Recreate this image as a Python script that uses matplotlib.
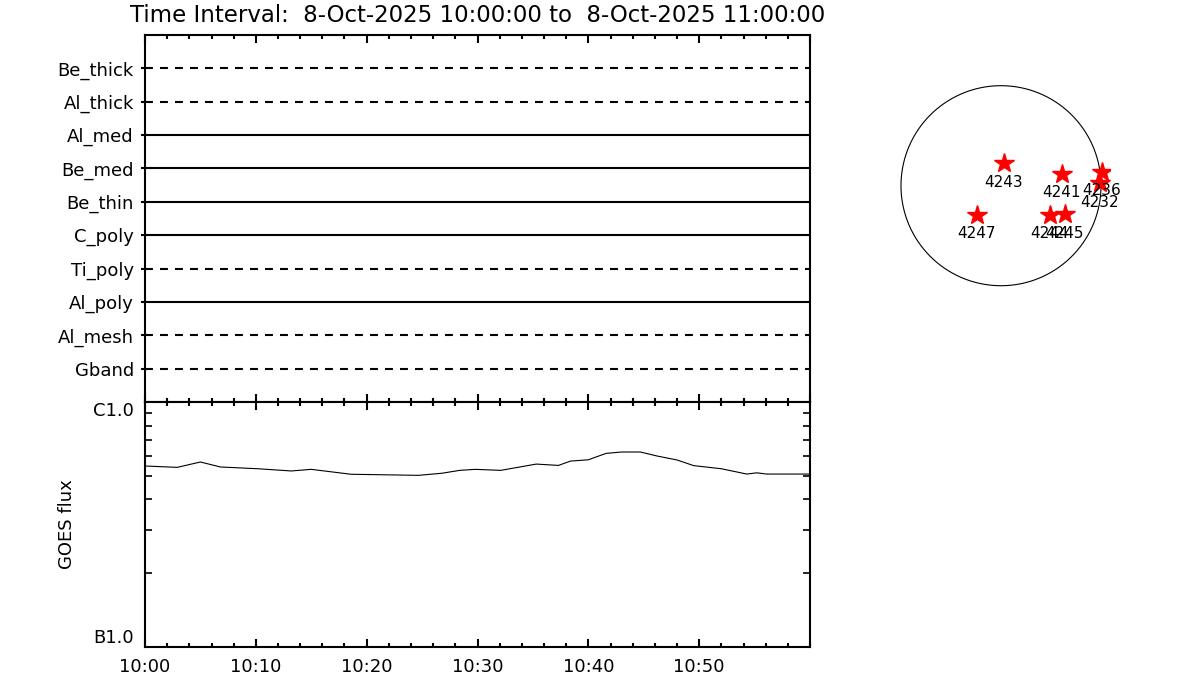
import numpy as np
import matplotlib
matplotlib.use("Agg")
import matplotlib.pyplot as plt
import matplotlib.dates as mdates
from matplotlib.ticker import NullFormatter

# filters / status channels, top to bottom
channels = ["Be_thick", "Al_thick", "Al_med", "Be_med", "Be_thin",
            "C_poly", "Ti_poly", "Al_poly", "Al_mesh", "Gband"]
in_use = [False, False, True, True, True, True, False, True, False, False]

# GOES flux (W/m^2), minutes after 10:00
goes_min = [0, 2.9, 5.0, 6.8, 10.2, 13.2, 15.0, 18.6, 24.7, 26.8, 28.4, 29.8,
            32.1, 35.3, 37.3, 38.4, 40.0, 41.6, 43.0, 44.7, 46.2, 48.0, 49.5,
            52.0, 54.3, 55.2, 56.1, 59.9]
goes_flux = [5.48, 5.41, 5.69, 5.43, 5.34, 5.23, 5.31, 5.07, 5.02, 5.12, 5.26,
             5.31, 5.26, 5.58, 5.51, 5.74, 5.81, 6.17, 6.25, 6.25, 6.02, 5.80,
             5.50, 5.34, 5.08, 5.14, 5.08, 5.08]
goes_flux = [f * 1e-7 for f in goes_flux]

tick_min = [0, 10, 20, 30, 40, 50]
flux_ticks = [1e-7, 1e-6]
flux_labels = ["B1.0", "C1.0"]

# active regions on the disk (arcsec)
ar_num = ["4243", "4241", "4236", "4232", "4247", "4244", "4245"]
ar_x = [29, 583, 967, 950, -233, 470, 614]
ar_y = [215, 112, 134, 23, -281, -281, -275]

t0 = np.datetime64("2025-10-08T10:00:00")
def to_time(m):
    return t0 + (np.array(m) * 60).astype("timedelta64[s]")

t_start, t_end = to_time([0, 60])

fig = plt.figure(figsize=(12, 7), dpi=100)
fs = 13

fig.text(0.398, 0.978, "Time Interval:  8-Oct-2025 10:00:00 to  8-Oct-2025 11:00:00",
         ha="center", va="center", fontsize=16.5)

# top panel: filter status lines
ax1 = fig.add_axes([145/1200, 1-402/700, 665/1200, 367/700])
n = len(channels)
ypos = np.arange(n, 0, -1)
for y, used in zip(ypos, in_use):
    ls = "-" if used else (0, (3.8, 3.4))
    ax1.plot([t_start, t_end], [y, y], color="black", lw=1.5, linestyle=ls)
ax1.set_ylim(0, n + 1)
ax1.set_yticks(ypos)
ax1.set_yticklabels(channels, fontsize=fs)
ax1.tick_params(axis="y", direction="out", length=3, width=1.5, pad=5, right=False)
ax1.set_xlim(t_start, t_end)

# bottom panel: GOES
ax2 = fig.add_axes([145/1200, 1-647/700, 665/1200, 245/700])
ax2.plot(to_time(goes_min), goes_flux, color="black", lw=0.8)
ax2.set_yscale("log")
ax2.set_ylim(1e-7, 1e-6)
ax2.set_yticks(flux_ticks)
ax2.set_yticklabels(flux_labels, fontsize=fs)
ax2.yaxis.set_minor_formatter(NullFormatter())
ax2.tick_params(axis="y", which="both", direction="in", left=True, right=True,
                length=5, width=1.2, pad=8)
ax2.set_ylabel("GOES flux", fontsize=fs, labelpad=12)
labs = ax2.get_yticklabels()
labs[0].set_va("bottom")
labs[1].set_va("top")
ax2.set_xlim(t_start, t_end)

for ax in (ax1, ax2):
    for s in ax.spines.values():
        s.set_linewidth(1.5)
    ax.xaxis.set_major_locator(mdates.MinuteLocator(byminute=tick_min))
    ax.xaxis.set_minor_locator(mdates.MinuteLocator(byminute=range(0, 60, 2)))
    ax.xaxis.set_major_formatter(mdates.DateFormatter("%H:%M"))
    ax.tick_params(axis="x", which="major", direction="in", top=True, bottom=True,
                   length=6, width=1.5, labelsize=fs, pad=8)
    ax.tick_params(axis="x", which="minor", direction="in", top=True, bottom=True,
                   length=3, width=1.5)
ax1.tick_params(axis="x", which="both", labelbottom=False)
ax2.set_xticks(to_time(tick_min))
ax2.set_xticklabels([str(10) + ":" + f"{m:02d}" for m in tick_min], fontsize=fs)
ax1.set_xlim(t_start, t_end)
ax2.set_xlim(t_start, t_end)

# solar disk
ax3 = fig.add_axes([(1001-109.4)/1200, 1-(185.7+109.4)/700, 218.8/1200, 218.8/700])
ax3.set_xlim(-1050, 1050)
ax3.set_ylim(-1050, 1050)
ax3.axis("off")
th = np.linspace(0, 2*np.pi, 400)
ax3.plot(960*np.cos(th), 960*np.sin(th), color="black", lw=0.8)
ax3.plot(ar_x, ar_y, linestyle="none", marker="*", markersize=15,
         color="red", markeredgecolor="red")
for x, y, t in zip(ar_x, ar_y, ar_num):
    ax3.annotate(t, (x, y), xytext=(0, -13.5), textcoords="offset points",
                 ha="center", va="center", fontsize=11)

fig.savefig("out.png", dpi=100)
